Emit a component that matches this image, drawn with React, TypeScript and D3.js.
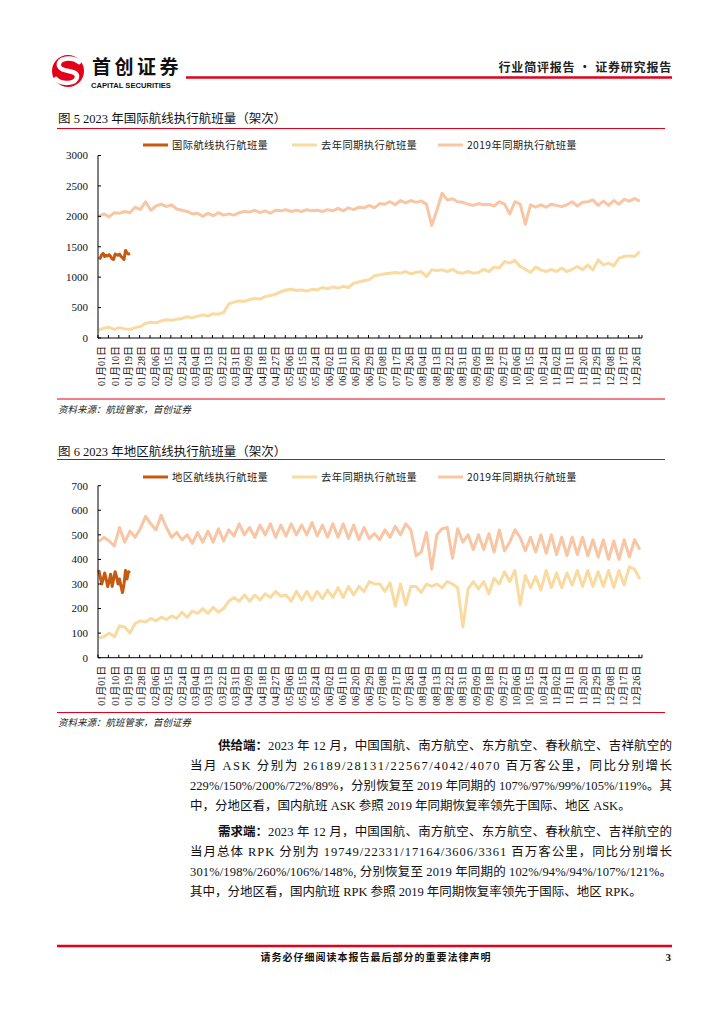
import React from 'react'
import * as d3 from 'd3'

// x-axis labels, one every 9 days (366-day axis)
const dateLabels = [
  '01月01日', '01月10日', '01月19日', '01月28日', '02月06日', '02月15日', '02月24日', '03月04日',
  '03月13日', '03月22日', '03月31日', '04月09日', '04月18日', '04月27日', '05月06日', '05月15日',
  '05月24日', '06月02日', '06月11日', '06月20日', '06月29日', '07月08日', '07月17日', '07月26日',
  '08月04日', '08月13日', '08月22日', '08月31日', '09月09日', '09月18日', '09月27日', '10月06日',
  '10月15日', '10月24日', '11月02日', '11月11日', '11月20日', '11月29日', '12月08日', '12月17日',
  '12月26日',
]

// 国际航线 — current year (daily, Jan 1 → Jan 22)
const intlCur = [1330, 1310, 1370, 1390, 1340, 1360, 1350, 1370, 1340, 1300, 1290, 1380, 1370, 1360, 1380, 1340, 1320, 1290, 1440, 1400, 1380, 1390]
// 国际航线 — last year / 2019 (one reading every 3.5 days)
const intlLast = [
  130, 160, 176, 140, 170, 150, 140, 170, 190, 240, 260, 250, 280, 300, 290, 310, 320, 350, 330, 360,
  380, 360, 400, 390, 420, 560, 590, 610, 600, 630, 650, 640, 680, 700, 720, 760, 790, 800, 780, 790,
  770, 800, 790, 830, 810, 840, 820, 850, 830, 900, 920, 940, 960, 1022, 1038, 1055, 1066, 1077, 1066, 1093,
  1055, 1077, 1093, 1010, 1120, 1110, 1120, 1093, 1130, 1077, 1066, 1093, 1066, 1077, 1130, 1093, 1165, 1150, 1258, 1231,
  1275, 1176, 1130, 1077, 1165, 1120, 1093, 1130, 1093, 1150, 1093, 1130, 1176, 1120, 1203, 1120, 1285, 1203, 1231, 1187,
  1313, 1340, 1350, 1340, 1420,
]
const intl2019 = [
  2000, 2040, 1990, 2060, 2050, 2080, 2060, 2150, 2110, 2240, 2100, 2170, 2200, 2160, 2190, 2120, 2100, 2080, 2040, 2050,
  2000, 2050, 2010, 2060, 2020, 2040, 2020, 2060, 2080, 2070, 2100, 2060, 2090, 2050, 2100, 2090, 2110, 2080, 2100, 2080,
  2110, 2090, 2100, 2080, 2110, 2090, 2130, 2090, 2140, 2110, 2150, 2140, 2180, 2140, 2210, 2200, 2240, 2190, 2260, 2220,
  2260, 2230, 2250, 2200, 1850, 2100, 2380, 2270, 2290, 2240, 2230, 2200, 2180, 2210, 2190, 2200, 2170, 2240, 2200, 2040,
  2240, 2200, 1870, 2190, 2150, 2190, 2150, 2200, 2180, 2160, 2190, 2240, 2170, 2230, 2240, 2270, 2180, 2250, 2180, 2260,
  2200, 2280, 2250, 2290, 2250,
]

// 地区航线
const regCur = [357, 330, 300, 320, 345, 320, 290, 310, 340, 290, 320, 350, 330, 300, 320, 290, 265, 300, 355, 320, 350, 345]
const regLast = [
  80, 85, 100, 85, 130, 125, 100, 140, 150, 145, 160, 150, 165, 155, 170, 160, 185, 165, 190, 180,
  200, 180, 205, 185, 200, 230, 245, 230, 255, 230, 255, 235, 260, 245, 270, 250, 255, 230, 270, 235,
  270, 235, 270, 240, 275, 245, 285, 245, 290, 255, 290, 270, 310, 300, 300, 270, 305, 210, 300, 215,
  290, 290, 265, 300, 290, 300, 285, 310, 300, 285, 125, 280, 310, 280, 310, 260, 323, 300, 350, 310,
  355, 215, 335, 285, 330, 275, 355, 285, 345, 285, 345, 295, 355, 290, 355, 290, 350, 290, 355, 285,
  355, 295, 370, 360, 320,
]
const reg2019 = [
  472, 490, 475, 455, 530, 470, 515, 490, 525, 575, 545, 520, 580, 530, 490, 510, 480, 500, 465, 510,
  470, 515, 470, 525, 475, 520, 495, 545, 500, 530, 490, 540, 500, 545, 490, 540, 495, 545, 500, 540,
  500, 550, 495, 540, 490, 545, 490, 545, 485, 540, 480, 530, 485, 505, 480, 520, 490, 535, 500, 545,
  520, 415, 430, 510, 360, 500, 525, 530, 405, 525, 470, 500, 440, 500, 440, 505, 430, 520, 435, 470,
  520, 490, 435, 490, 430, 500, 425, 500, 420, 490, 415, 490, 420, 490, 415, 480, 410, 480, 400, 475,
  400, 480, 410, 480, 440,
]

const RED = '#E2001A'
const C_CUR = '#C55A11'
const C_LAST = '#F9DBA2'
const C_2019 = '#F8C6A5'
const SERIF = "'Liberation Serif', 'Noto Sans CJK SC', serif"
const CJK = "'Noto Sans CJK SC', sans-serif"

type ChartProps = {
  legendY: number
  top: number
  bottom: number
  yMax: number
  yStep: number
  cur: number[]
  last: number[]
  y2019: number[]
  curName: string
}

const Chart = ({ legendY, top, bottom, yMax, yStep, cur, last, y2019, curName }: ChartProps) => {
  const x = d3.scaleLinear().domain([0, 366]).range([98, 642])
  const y = d3.scaleLinear().domain([0, yMax]).range([bottom, top])
  const halfWeek = d3
    .line<number>()
    .x((_, i) => x(i * 3.5 + 0.5))
    .y((d) => y(d))
  const daily = d3
    .line<number>()
    .x((_, i) => x(i + 0.5))
    .y((d) => y(d))
  const yTicks = d3.range(0, yMax + 1, yStep)
  const weekTicks = d3.range(0, 366, 7).concat([366])
  const legend = [
    { name: curName, color: C_CUR, x: 143 },
    { name: '去年同期执行航班量', color: C_LAST, x: 292 },
    { name: '2019年同期执行航班量', color: C_2019, x: 438 },
  ]
  return (
    <g>
      {legend.map((l) => (
        <g key={l.name}>
          <line x1={l.x} x2={l.x + 25} y1={legendY} y2={legendY} stroke={l.color} strokeWidth={3} />
          <text x={l.x + 29} y={legendY} dy="0.35em" fontSize={10.3} fontFamily={CJK} letterSpacing={0.4} fill="#222">
            {l.name}
          </text>
        </g>
      ))}
      <path d={halfWeek(y2019) ?? ''} fill="none" stroke={C_2019} strokeWidth={3} strokeLinejoin="round" />
      <path d={halfWeek(last) ?? ''} fill="none" stroke={C_LAST} strokeWidth={3} strokeLinejoin="round" />
      <path d={daily(cur) ?? ''} fill="none" stroke={C_CUR} strokeWidth={3} strokeLinejoin="round" />
      {/* axes */}
      <line x1={98} x2={98} y1={top} y2={bottom} stroke="#000" strokeWidth={1} />
      <line x1={98} x2={642} y1={bottom} y2={bottom} stroke="#000" strokeWidth={1} />
      {yTicks.map((t) => (
        <g key={t}>
          <line x1={98} x2={101} y1={y(t)} y2={y(t)} stroke="#000" />
          <text x={88} y={y(t)} dy="0.35em" textAnchor="end" fontSize={11} fontFamily={SERIF} fill="#111">
            {t}
          </text>
        </g>
      ))}
      {weekTicks.map((d) => (
        <line key={d} x1={x(d)} x2={x(d)} y1={bottom} y2={bottom - 3} stroke="#000" />
      ))}
      {dateLabels.map((lab, i) => (
        <text
          key={lab}
          transform={`translate(${x(i * 9 + 0.5) + 3},${bottom + 8}) rotate(-90)`}
          textAnchor="end"
          dominantBaseline="central"
          fontSize={10}
          fontFamily={SERIF}
          fill="#111"
        >
          {lab}
        </text>
      ))}
    </g>
  )
}

const bodyLines = [
  { y: 750, lead: '供给端：', text: '2023 年 12 月，中国国航、南方航空、东方航空、春秋航空、吉祥航空的', justify: true },
  { y: 770, lead: '', text: '当月 ASK 分别为 26189/28131/22567/4042/4070 百万客公里，同比分别增长', justify: true },
  { y: 790, lead: '', text: '229%/150%/200%/72%/89%，分别恢复至 2019 年同期的 107%/97%/99%/105%/119%。其', justify: true },
  { y: 810, lead: '', text: '中，分地区看，国内航班 ASK 参照 2019 年同期恢复率领先于国际、地区 ASK。', justify: false },
  { y: 836, lead: '需求端：', text: '2023 年 12 月，中国国航、南方航空、东方航空、春秋航空、吉祥航空的', justify: true },
  { y: 856, lead: '', text: '当月总体 RPK 分别为 19749/22331/17164/3606/3361 百万客公里，同比分别增长', justify: true },
  { y: 876, lead: '', text: '301%/198%/260%/106%/148%, 分别恢复至 2019 年同期的 102%/94%/94%/107%/121%。', justify: true },
  { y: 896, lead: '', text: '其中，分地区看，国内航班 RPK 参照 2019 年同期恢复率领先于国际、地区 RPK。', justify: false },
]

export default function App() {
  return (
    <svg
      width={724}
      height={1024}
      style={{ position: 'absolute', left: 0, top: 0, background: '#fff' }}
    >
      {/* header */}
      <circle cx={68} cy={71} r={16} fill={RED} />
      <path
        d="M 79 62 C 72 56, 57 58, 59 66 C 61 73, 78 69, 77 77 C 76 84, 62 85, 56 79"
        fill="none"
        stroke="#fff"
        strokeWidth={4.5}
        strokeLinecap="round"
      />
      <text x={92} y={73.5} fontSize={19} fontWeight={700} fontFamily={CJK} letterSpacing={3.5} fill="#111">
        首创证券
      </text>
      <text x={91} y={87.5} fontSize={7.6} fontWeight={700} fontFamily="'Liberation Sans', Arial, sans-serif" fill="#111">
        CAPITAL SECURITIES
      </text>
      <line x1={186} x2={672} y1={77.5} y2={77.5} stroke={RED} strokeWidth={2.5} />
      <text x={672} y={72} textAnchor="end" fontSize={12} fontWeight={700} fontFamily={CJK} letterSpacing={0.8} fill="#222">
        行业简评报告 · 证券研究报告
      </text>

      {/* figure 5 */}
      <text x={58} y={123} fontSize={12.5} fontFamily={SERIF} fill="#111">
        图 5 2023 年国际航线执行航班量（架次）
      </text>
      <line x1={57} x2={665} y1={128.5} y2={128.5} stroke={RED} strokeWidth={1.2} />
      <Chart
        legendY={145}
        top={155.5}
        bottom={338}
        yMax={3000}
        yStep={500}
        cur={intlCur}
        last={intlLast}
        y2019={intl2019}
        curName="国际航线执行航班量"
      />
      <line x1={57} x2={665} y1={399} y2={399} stroke={RED} strokeWidth={1.2} />
      <text x={58} y={413} fontSize={9.5} fontStyle="italic" fontFamily={CJK} fill="#222">
        资料来源：航班管家，首创证券
      </text>

      {/* figure 6 */}
      <text x={58} y={456} fontSize={12.5} fontFamily={SERIF} fill="#111">
        图 6 2023 年地区航线执行航班量（架次）
      </text>
      <line x1={57} x2={665} y1={459.5} y2={459.5} stroke={RED} strokeWidth={1.2} />
      <Chart
        legendY={477}
        top={485.7}
        bottom={657.7}
        yMax={700}
        yStep={100}
        cur={regCur}
        last={regLast}
        y2019={reg2019}
        curName="地区航线执行航班量"
      />
      <line x1={57} x2={665} y1={712.5} y2={712.5} stroke={RED} strokeWidth={1.2} />
      <text x={58} y={726} fontSize={9.5} fontStyle="italic" fontFamily={CJK} fill="#222">
        资料来源：航班管家，首创证券
      </text>

      {/* body text */}
      {bodyLines.map((l) => {
        const startX = l.lead ? 268 : 190
        return (
          <g key={l.y}>
            {l.lead && (
              <text x={218} y={l.y} fontSize={12.5} fontWeight={700} fontFamily={CJK} fill="#111">
                {l.lead}
              </text>
            )}
            <text
              x={startX}
              y={l.y}
              fontSize={12.5}
              fontFamily={SERIF}
              fill="#111"
              {...(l.justify ? { textLength: 672 - startX, lengthAdjust: 'spacing' } : {})}
            >
              {l.text}
            </text>
          </g>
        )
      })}

      {/* footer */}
      <line x1={57} x2={672} y1={946} y2={946} stroke={RED} strokeWidth={2.5} />
      <text x={376} y={961} textAnchor="middle" fontSize={10} fontWeight={700} fontFamily={CJK} letterSpacing={1} fill="#111">
        请务必仔细阅读本报告最后部分的重要法律声明
      </text>
      <text x={671} y={961} textAnchor="end" fontSize={11} fontWeight={700} fontFamily={SERIF} fill="#111">
        3
      </text>
    </svg>
  )
}
